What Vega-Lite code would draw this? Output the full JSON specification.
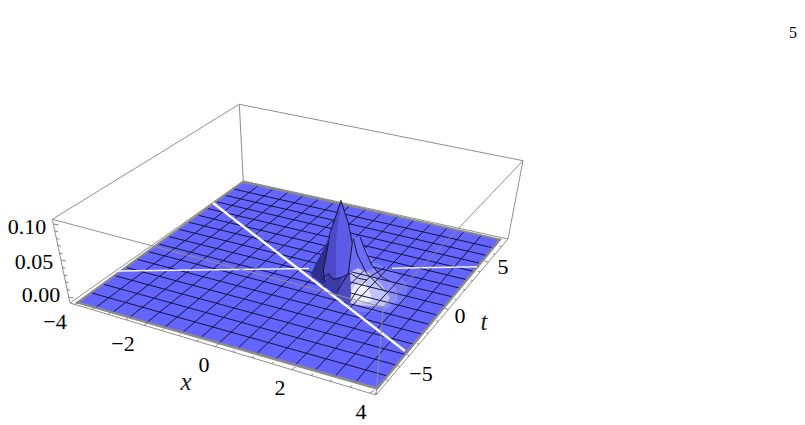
{
"$schema":"https://vega.github.io/schema/vega-lite/v6.json",
"width":805,"height":425,"padding":0,"autosize":{"type":"fit","contains":"padding"},
"background":"white","view":{"stroke":null},
"datasets":{
"segs":[
{"p":"back","x":52.3,"y":219.3,"x2":239.3,"y2":104.3},
{"p":"back","x":239.3,"y":104.3,"x2":523,"y2":160.7},
{"p":"back","x":239.3,"y":104.3,"x2":243.3,"y2":181},
{"p":"back","x":70,"y":303,"x2":243.3,"y2":181},
{"p":"back","x":243.3,"y":181,"x2":508,"y2":239},
{"p":"mesh","x":96.7,"y":306.8,"x2":257.6,"y2":186.2},
{"p":"mesh","x":113.6,"y":311.6,"x2":272.4,"y2":189.5},
{"p":"mesh","x":130.7,"y":316.5,"x2":287.4,"y2":192.9},
{"p":"mesh","x":148.1,"y":321.5,"x2":302.5,"y2":196.2},
{"p":"mesh","x":165.8,"y":326.5,"x2":317.8,"y2":199.7},
{"p":"mesh","x":183.6,"y":331.6,"x2":333.2,"y2":203.1},
{"p":"mesh","x":201.7,"y":336.8,"x2":348.9,"y2":206.6},
{"p":"mesh","x":220.1,"y":342.1,"x2":364.7,"y2":210.2},
{"p":"mesh","x":238.8,"y":347.4,"x2":380.6,"y2":213.7},
{"p":"mesh","x":257.7,"y":352.8,"x2":396.8,"y2":217.3},
{"p":"mesh","x":276.8,"y":358.3,"x2":413.2,"y2":221},
{"p":"mesh","x":296.3,"y":363.9,"x2":429.8,"y2":224.7},
{"p":"mesh","x":316,"y":369.5,"x2":446.6,"y2":228.5},
{"p":"mesh","x":336,"y":375.2,"x2":463.5,"y2":232.2},
{"p":"mesh","x":356.4,"y":381.1,"x2":480.7,"y2":236.1},
{"p":"mesh","x":92.2,"y":293.1,"x2":386.2,"y2":375.7},
{"p":"mesh","x":104.1,"y":284.4,"x2":395.2,"y2":364.8},
{"p":"mesh","x":115.7,"y":275.9,"x2":404,"y2":354.2},
{"p":"mesh","x":127,"y":267.7,"x2":412.4,"y2":343.9},
{"p":"mesh","x":138,"y":259.6,"x2":420.7,"y2":333.9},
{"p":"mesh","x":148.8,"y":251.8,"x2":428.7,"y2":324.2},
{"p":"mesh","x":159.2,"y":244.2,"x2":436.4,"y2":314.8},
{"p":"mesh","x":169.4,"y":236.7,"x2":444,"y2":305.5},
{"p":"mesh","x":179.4,"y":229.4,"x2":451.4,"y2":296.6},
{"p":"mesh","x":189.1,"y":222.3,"x2":458.5,"y2":287.8},
{"p":"mesh","x":198.7,"y":215.4,"x2":465.6,"y2":279.4},
{"p":"mesh","x":207.9,"y":208.6,"x2":472.4,"y2":271.1},
{"p":"mesh","x":217,"y":201.9,"x2":479,"y2":263},
{"p":"mesh","x":225.9,"y":195.5,"x2":485.5,"y2":255.2},
{"p":"mesh","x":234.5,"y":189.2,"x2":491.8,"y2":247.5},
{"p":"white2","x":118,"y":271,"x2":309,"y2":268.5},
{"p":"white2","x":392,"y":268.3,"x2":477,"y2":266.8},
{"p":"white1","x":213,"y":203,"x2":405,"y2":351},
{"p":"front","x":52.3,"y":219.3,"x2":383.3,"y2":307.3},
{"p":"front","x":383.3,"y":307.3,"x2":523,"y2":160.7},
{"p":"front","x":383.3,"y":307.3,"x2":376,"y2":395},
{"p":"front","x":523,"y":160.7,"x2":508,"y2":239},
{"p":"front","x":52.3,"y":219.3,"x2":70,"y2":303},
{"p":"front","x":70,"y":303,"x2":376,"y2":395},
{"p":"front","x":376,"y":395,"x2":508,"y2":239},
{"p":"tick","x":75,"y":304.5,"x2":79,"y2":301.5},
{"p":"tick","x":91.7,"y":309.5,"x2":93.7,"y2":308},
{"p":"tick","x":108.3,"y":314.5,"x2":110.3,"y2":313},
{"p":"tick","x":126,"y":319.8,"x2":128,"y2":318.3},
{"p":"tick","x":144,"y":325.3,"x2":148,"y2":322.3},
{"p":"tick","x":161.7,"y":330.6,"x2":163.7,"y2":329.1},
{"p":"tick","x":178.5,"y":335.6,"x2":180.5,"y2":334.1},
{"p":"tick","x":196.7,"y":341.1,"x2":198.7,"y2":339.6},
{"p":"tick","x":215,"y":346.6,"x2":219,"y2":343.6},
{"p":"tick","x":233,"y":352,"x2":235,"y2":350.5},
{"p":"tick","x":252,"y":357.7,"x2":254,"y2":356.2},
{"p":"tick","x":271.7,"y":363.6,"x2":273.7,"y2":362.1},
{"p":"tick","x":291.7,"y":369.7,"x2":295.7,"y2":366.7},
{"p":"tick","x":311,"y":375.5,"x2":313,"y2":374},
{"p":"tick","x":330,"y":381.2,"x2":332,"y2":379.7},
{"p":"tick","x":350,"y":387.2,"x2":352,"y2":385.7},
{"p":"tick","x":370,"y":393.2,"x2":374,"y2":390.2},
{"p":"tick","x":377,"y":393.8,"x2":375,"y2":393.1},
{"p":"tick","x":388.3,"y":380.5,"x2":386.3,"y2":379.8},
{"p":"tick","x":400,"y":366.6,"x2":396,"y2":365.1},
{"p":"tick","x":409.3,"y":355.6,"x2":407.3,"y2":354.9},
{"p":"tick","x":419,"y":344.2,"x2":417,"y2":343.5},
{"p":"tick","x":428.3,"y":333.2,"x2":426.3,"y2":332.5},
{"p":"tick","x":438.3,"y":321.4,"x2":436.3,"y2":320.7},
{"p":"tick","x":448.3,"y":309.5,"x2":444.3,"y2":308},
{"p":"tick","x":456.7,"y":299.6,"x2":454.7,"y2":298.9},
{"p":"tick","x":465,"y":289.8,"x2":463,"y2":289.1},
{"p":"tick","x":472.7,"y":280.7,"x2":470.7,"y2":280},
{"p":"tick","x":480,"y":272,"x2":478,"y2":271.3},
{"p":"tick","x":488.3,"y":262.3,"x2":484.3,"y2":260.8},
{"p":"tick","x":495,"y":254.4,"x2":493,"y2":253.7},
{"p":"tick","x":501.5,"y":246.7,"x2":499.5,"y2":246},
{"p":"tick","x":68.5,"y":297,"x2":73.5,"y2":298},
{"p":"tick","x":67,"y":289.5,"x2":70,"y2":290.2},
{"p":"tick","x":65.5,"y":282,"x2":68.5,"y2":282.7},
{"p":"tick","x":64,"y":275,"x2":67,"y2":275.7},
{"p":"tick","x":62.5,"y":267.5,"x2":65.5,"y2":268.2},
{"p":"tick","x":61,"y":260,"x2":66,"y2":261},
{"p":"tick","x":59.5,"y":253,"x2":62.5,"y2":253.7},
{"p":"tick","x":58,"y":245.5,"x2":61,"y2":246.2},
{"p":"tick","x":56.5,"y":238.5,"x2":59.5,"y2":239.2},
{"p":"tick","x":55,"y":231,"x2":58,"y2":231.7},
{"p":"tick","x":53.5,"y":224,"x2":58.5,"y2":225}
],
"paths":[
{"p":"under","id":"edge","s":"edge","i":0,"x":75,"y":303},
{"p":"under","id":"edge","s":"edge","i":1,"x":243,"y":180.5},
{"p":"under","id":"edge","s":"edge","i":2,"x":502,"y":239},
{"p":"under","id":"edge","s":"edge","i":3,"x":377.5,"y":390},
{"p":"under","id":"blue","s":"blue","i":0,"x":80,"y":302},
{"p":"under","id":"blue","s":"blue","i":1,"x":243,"y":183},
{"p":"under","id":"blue","s":"blue","i":2,"x":498,"y":240},
{"p":"under","id":"blue","s":"blue","i":3,"x":377,"y":387},
{"p":"under","id":"h0","s":"l0","i":0,"x":360,"y":245},
{"p":"under","id":"h0","s":"l0","i":1,"x":375,"y":262},
{"p":"under","id":"h0","s":"l0","i":2,"x":395,"y":272},
{"p":"under","id":"h0","s":"l0","i":3,"x":408,"y":285},
{"p":"under","id":"h0","s":"l0","i":4,"x":405,"y":300},
{"p":"under","id":"h0","s":"l0","i":5,"x":390,"y":312},
{"p":"under","id":"h0","s":"l0","i":6,"x":360,"y":312},
{"p":"under","id":"h0","s":"l0","i":7,"x":350,"y":305},
{"p":"under","id":"h1","s":"l1","i":0,"x":353.3,"y":236.7},
{"p":"under","id":"h1","s":"l1","i":1,"x":366.7,"y":250},
{"p":"under","id":"h1","s":"l1","i":2,"x":373.3,"y":268.3},
{"p":"under","id":"h1","s":"l1","i":3,"x":385,"y":277.3},
{"p":"under","id":"h1","s":"l1","i":4,"x":395,"y":286.7},
{"p":"under","id":"h1","s":"l1","i":5,"x":398.3,"y":300},
{"p":"under","id":"h1","s":"l1","i":6,"x":386.7,"y":308.3},
{"p":"under","id":"h1","s":"l1","i":7,"x":370,"y":306.7},
{"p":"under","id":"h1","s":"l1","i":8,"x":350,"y":305},
{"p":"under","id":"h1","s":"l1","i":9,"x":348.3,"y":273.3},
{"p":"under","id":"h1","s":"l1","i":10,"x":352.3,"y":243.3},
{"p":"under","id":"h2","s":"l2","i":0,"x":350,"y":272},
{"p":"under","id":"h2","s":"l2","i":1,"x":358,"y":268},
{"p":"under","id":"h2","s":"l2","i":2,"x":368,"y":272},
{"p":"under","id":"h2","s":"l2","i":3,"x":382,"y":285},
{"p":"under","id":"h2","s":"l2","i":4,"x":390,"y":298},
{"p":"under","id":"h2","s":"l2","i":5,"x":385,"y":306},
{"p":"under","id":"h2","s":"l2","i":6,"x":368,"y":306},
{"p":"under","id":"h2","s":"l2","i":7,"x":350,"y":304},
{"p":"under","id":"h3","s":"l3","i":0,"x":351,"y":292},
{"p":"under","id":"h3","s":"l3","i":1,"x":356,"y":283},
{"p":"under","id":"h3","s":"l3","i":2,"x":365,"y":283},
{"p":"under","id":"h3","s":"l3","i":3,"x":370,"y":292},
{"p":"under","id":"h3","s":"l3","i":4,"x":372,"y":301},
{"p":"under","id":"h3","s":"l3","i":5,"x":360,"y":303},
{"p":"under","id":"h3","s":"l3","i":6,"x":352,"y":300},
{"p":"over","id":"o6","s":"hump","i":0,"x":352.3,"y":243.3},
{"p":"over","id":"o6","s":"hump","i":1,"x":353.3,"y":236.7},
{"p":"over","id":"o6","s":"hump","i":2,"x":360,"y":236.7},
{"p":"over","id":"o6","s":"hump","i":3,"x":365,"y":250},
{"p":"over","id":"o6","s":"hump","i":4,"x":370,"y":260},
{"p":"over","id":"o6","s":"hump","i":5,"x":373,"y":268},
{"p":"over","id":"o6","s":"hump","i":6,"x":366,"y":272},
{"p":"over","id":"o6","s":"hump","i":7,"x":358,"y":268},
{"p":"over","id":"o6","s":"hump","i":8,"x":350,"y":272},
{"p":"over","id":"o6","s":"hump","i":9,"x":350,"y":260},
{"p":"over","id":"o5","s":"dark2","i":0,"x":341.7,"y":277.3},
{"p":"over","id":"o5","s":"dark2","i":1,"x":350,"y":273.3},
{"p":"over","id":"o5","s":"dark2","i":2,"x":351,"y":292},
{"p":"over","id":"o5","s":"dark2","i":3,"x":350,"y":305},
{"p":"over","id":"o5","s":"dark2","i":4,"x":338.3,"y":296.7},
{"p":"over","id":"o5","s":"dark2","i":5,"x":336.7,"y":293.3},
{"p":"over","id":"o5","s":"dark2","i":6,"x":340,"y":286.7},
{"p":"over","id":"o4","s":"mid2","i":0,"x":340.7,"y":200},
{"p":"over","id":"o4","s":"mid2","i":1,"x":336,"y":240},
{"p":"over","id":"o4","s":"mid2","i":2,"x":336,"y":278},
{"p":"over","id":"o4","s":"mid2","i":3,"x":341.7,"y":277.3},
{"p":"over","id":"o4","s":"mid2","i":4,"x":350,"y":273.3},
{"p":"over","id":"o4","s":"mid2","i":5,"x":350,"y":260},
{"p":"over","id":"o4","s":"mid2","i":6,"x":352.3,"y":243.3},
{"p":"over","id":"o4","s":"mid2","i":7,"x":348.3,"y":223.3},
{"p":"over","id":"o3","s":"mid1","i":0,"x":340.7,"y":200},
{"p":"over","id":"o3","s":"mid1","i":1,"x":333,"y":225},
{"p":"over","id":"o3","s":"mid1","i":2,"x":326.7,"y":253.3},
{"p":"over","id":"o3","s":"mid1","i":3,"x":323.3,"y":270},
{"p":"over","id":"o3","s":"mid1","i":4,"x":325,"y":278},
{"p":"over","id":"o3","s":"mid1","i":5,"x":328.3,"y":273.3},
{"p":"over","id":"o3","s":"mid1","i":6,"x":333.3,"y":279.3},
{"p":"over","id":"o3","s":"mid1","i":7,"x":336,"y":278},
{"p":"over","id":"o3","s":"mid1","i":8,"x":336,"y":240},
{"p":"over","id":"o2","s":"dark","i":0,"x":323.3,"y":285},
{"p":"over","id":"o2","s":"dark","i":1,"x":325,"y":281},
{"p":"over","id":"o2","s":"dark","i":2,"x":328.3,"y":273.3},
{"p":"over","id":"o2","s":"dark","i":3,"x":333.3,"y":279.3},
{"p":"over","id":"o2","s":"dark","i":4,"x":341.7,"y":277.3},
{"p":"over","id":"o2","s":"dark","i":5,"x":340,"y":286.7},
{"p":"over","id":"o2","s":"dark","i":6,"x":336.7,"y":293.3},
{"p":"over","id":"o2","s":"dark","i":7,"x":338.3,"y":296.7},
{"p":"over","id":"o1","s":"navy","i":0,"x":310.7,"y":275},
{"p":"over","id":"o1","s":"navy","i":1,"x":315,"y":265},
{"p":"over","id":"o1","s":"navy","i":2,"x":325,"y":246.7},
{"p":"over","id":"o1","s":"navy","i":3,"x":333,"y":225},
{"p":"over","id":"o1","s":"navy","i":4,"x":328,"y":240},
{"p":"over","id":"o1","s":"navy","i":5,"x":326.7,"y":253.3},
{"p":"over","id":"o1","s":"navy","i":6,"x":323.3,"y":270},
{"p":"over","id":"o1","s":"navy","i":7,"x":325,"y":281.7},
{"p":"over","id":"o1","s":"navy","i":8,"x":323.3,"y":285},
{"p":"pm","id":"m1","i":0,"x":340.7,"y":201.7},
{"p":"pm","id":"m1","i":1,"x":330,"y":233.3},
{"p":"pm","id":"m1","i":2,"x":326.7,"y":253.3},
{"p":"pm","id":"m1","i":3,"x":323.3,"y":270},
{"p":"pm","id":"m1","i":4,"x":325,"y":281.7},
{"p":"pm","id":"m2","i":0,"x":340.7,"y":200},
{"p":"pm","id":"m2","i":1,"x":348.3,"y":223.3},
{"p":"pm","id":"m2","i":2,"x":352.3,"y":243.3},
{"p":"pm","id":"m2","i":3,"x":350,"y":260},
{"p":"pm","id":"m2","i":4,"x":348.3,"y":273.3},
{"p":"pm","id":"m2","i":5,"x":340,"y":286.7},
{"p":"pm","id":"m2","i":6,"x":336.7,"y":293.3},
{"p":"pm","id":"m3","i":0,"x":323.3,"y":278.3},
{"p":"pm","id":"m3","i":1,"x":328.3,"y":273.3},
{"p":"pm","id":"m3","i":2,"x":333.3,"y":279.3},
{"p":"pm","id":"m3","i":3,"x":341.7,"y":277.3},
{"p":"pm","id":"m3","i":4,"x":350,"y":273.3},
{"p":"pm","id":"m3","i":5,"x":358.3,"y":278.3},
{"p":"pm","id":"m3","i":6,"x":366.7,"y":280},
{"p":"pm","id":"m4","i":0,"x":353.3,"y":238.3},
{"p":"pm","id":"m4","i":1,"x":357.3,"y":255},
{"p":"pm","id":"m4","i":2,"x":366.7,"y":273.3},
{"p":"pm","id":"m4","i":3,"x":385,"y":291.7},
{"p":"pm","id":"m5","i":0,"x":360,"y":236.7},
{"p":"pm","id":"m5","i":1,"x":365,"y":250},
{"p":"pm","id":"m5","i":2,"x":371.7,"y":265},
{"p":"pm","id":"m5","i":3,"x":381.7,"y":276.7},
{"p":"pm","id":"m5","i":4,"x":390,"y":281.7},
{"p":"pm","id":"m6","i":0,"x":350,"y":301.7},
{"p":"pm","id":"m6","i":1,"x":358.3,"y":288.3},
{"p":"pm","id":"m6","i":2,"x":370,"y":276.7},
{"p":"pm","id":"m6","i":3,"x":385,"y":267.3}
],
"labels":[
{"x":27,"y":227,"t":"0.10","st":"normal"},
{"x":34,"y":262,"t":"0.05","st":"normal"},
{"x":41,"y":295,"t":"0.00","st":"normal"},
{"x":55,"y":322,"t":"−4","st":"normal"},
{"x":123,"y":344,"t":"−2","st":"normal"},
{"x":204,"y":365,"t":"0","st":"normal"},
{"x":280,"y":388,"t":"2","st":"normal"},
{"x":361,"y":412,"t":"4","st":"normal"},
{"x":186,"y":382,"t":"x","st":"italic"},
{"x":421,"y":374,"t":"−5","st":"normal"},
{"x":460,"y":316,"t":"0","st":"normal"},
{"x":484,"y":322,"t":"t","st":"italic"},
{"x":503,"y":267,"t":"5","st":"normal"}
]
},
"encoding":{
"x":{"field":"x","type":"quantitative","scale":{"domain":[0,805],"nice":false,"zero":false},"axis":null},
"y":{"field":"y","type":"quantitative","scale":{"domain":[425,0],"nice":false,"zero":false},"axis":null}
},
"layer":[
{"data":{"name":"segs"},"transform":[{"filter":"datum.p==='back'"}],"mark":{"type":"rule","color":"#8f8f8f","strokeWidth":1},"encoding":{"x2":{"field":"x2"},"y2":{"field":"y2"}}},
{"data":{"name":"paths"},"transform":[{"filter":"datum.p==='under'"}],"mark":{"type":"line","stroke":"transparent","strokeWidth":0},"encoding":{"detail":{"field":"id"},"order":{"field":"i"},"fill":{"field":"s","type":"nominal","legend":null,"scale":{"domain":["edge","blue","l0","l1","l2","l3","hump","dark2","mid2","mid1","dark","navy"],"range":["#8a8a8a","#6464ff","#7878ff","#8e8eff","#c4c4ff","#eeeeff","#6c6cf4","#4c4cc0","#5c5ce6","#4a4ac8","#3a3aa8","#2e2e8c"]}}}},
{"data":{"name":"segs"},"transform":[{"filter":"datum.p==='mesh'"}],"mark":{"type":"rule","color":"#14143a","strokeWidth":1},"encoding":{"x2":{"field":"x2"},"y2":{"field":"y2"}}},
{"data":{"name":"segs"},"transform":[{"filter":"datum.p==='white2'"}],"mark":{"type":"rule","color":"#f0f0ff","strokeWidth":1.5},"encoding":{"x2":{"field":"x2"},"y2":{"field":"y2"}}},
{"data":{"name":"segs"},"transform":[{"filter":"datum.p==='white1'"}],"mark":{"type":"rule","color":"#ffffff","strokeWidth":2.4},"encoding":{"x2":{"field":"x2"},"y2":{"field":"y2"}}},
{"data":{"name":"paths"},"transform":[{"filter":"datum.p==='over'"}],"mark":{"type":"line","stroke":"transparent","strokeWidth":0},"encoding":{"detail":{"field":"id"},"order":{"field":"i"},"fill":{"field":"s","type":"nominal","legend":null,"scale":{"domain":["edge","blue","l0","l1","l2","l3","hump","dark2","mid2","mid1","dark","navy"],"range":["#8a8a8a","#6464ff","#7878ff","#8e8eff","#c4c4ff","#eeeeff","#6c6cf4","#4c4cc0","#5c5ce6","#4a4ac8","#3a3aa8","#2e2e8c"]}}}},
{"data":{"name":"paths"},"transform":[{"filter":"datum.p==='pm'"}],"mark":{"type":"line","color":"#14143a","strokeWidth":1},"encoding":{"detail":{"field":"id"},"order":{"field":"i"}}},
{"data":{"name":"segs"},"transform":[{"filter":"datum.p==='front'"}],"mark":{"type":"rule","color":"#8f8f8f","strokeWidth":1},"encoding":{"x2":{"field":"x2"},"y2":{"field":"y2"}}},
{"data":{"name":"segs"},"transform":[{"filter":"datum.p==='tick'"}],"mark":{"type":"rule","color":"#666666","strokeWidth":0.8},"encoding":{"x2":{"field":"x2"},"y2":{"field":"y2"}}},
{"data":{"name":"labels"},"transform":[{"filter":"datum.st==='normal'"}],"mark":{"type":"text","font":"Liberation Serif","fontSize":22,"color":"#000000","align":"center","baseline":"middle"},"encoding":{"text":{"field":"t"}}},
{"data":{"name":"labels"},"transform":[{"filter":"datum.st==='italic'"}],"mark":{"type":"text","font":"Liberation Serif","fontStyle":"italic","fontSize":25,"color":"#222222","align":"center","baseline":"middle"},"encoding":{"text":{"field":"t"}}},
{"data":{"values":[{"x":793,"y":33,"t":"5"}]},"mark":{"type":"text","font":"Liberation Serif","fontSize":16,"color":"#000000","align":"center","baseline":"middle"},"encoding":{"text":{"field":"t"}}}
]
}
